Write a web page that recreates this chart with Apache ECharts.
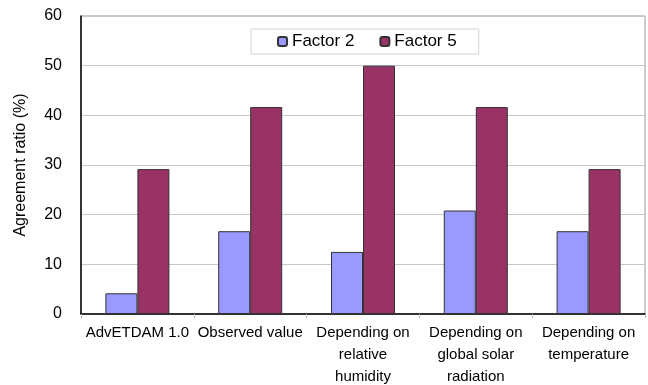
<!DOCTYPE html>
<html>
<head>
<meta charset="utf-8">
<script src="https://cdn.jsdelivr.net/npm/echarts@6/dist/echarts.min.js"></script>
<style>
    html, body { margin: 0; padding: 0; background: #fff; }
    #main { width: 648px; height: 385px; }
</style>
</head>
<body>
<div id="main"></div>
<script>
// categories (x axis)
let categories = ['AdvETDAM 1.0', 'Observed value', 'Depending on\nrelative\nhumidity', 'Depending on\nglobal solar\nradiation', 'Depending on\ntemperature'];
// series values (%)
let factor2 = [4.17, 16.67, 12.5, 20.83, 16.67];
let factor5 = [29.17, 41.67, 50, 41.67, 29.17];
// y axis range
let yMin = 0, yMax = 60, yStep = 10;

let font = 'Liberation Sans, Arial, sans-serif';
let chart = echarts.init(document.getElementById('main'));

let option = {
    animation: false,
    textStyle: { fontFamily: font },
    grid: {
        left: 81, right: 3, top: 16, bottom: 71,
        outerBoundsMode: 'none',
        containLabel: false,
        show: true,
        borderColor: '#999',
        borderWidth: 1
    },
    legend: {
        data: ['Factor 2', 'Factor 5'],
        left: 251,
        top: 29,
        padding: [4, 22, 4, 26],
        itemGap: 25,
        itemWidth: 9,
        itemHeight: 9,
        borderColor: '#d4d4d4',
        borderWidth: 1,
        textStyle: { fontSize: 17, color: '#000', fontFamily: font }
    },
    xAxis: {
        type: 'category',
        data: categories,
        axisLine: { lineStyle: { color: '#000', width: 1.5 } },
        axisTick: { show: true, length: 4, lineStyle: { color: '#bbb' } },
        axisLabel: {
            interval: 0,
            color: '#000',
            fontSize: 15,
            lineHeight: 22,
            margin: 8
        }
    },
    yAxis: {
        type: 'value',
        min: yMin,
        max: yMax,
        interval: yStep,
        name: 'Agreement ratio (%)',
        nameLocation: 'middle',
        nameGap: 52,
        nameTextStyle: { fontSize: 16, color: '#000' },
        axisLine: { show: true, lineStyle: { color: '#000', width: 1.5 } },
        axisTick: { show: false },
        axisLabel: { color: '#000', fontSize: 16, margin: 19 },
        splitLine: { lineStyle: { color: '#c8c8c8' } }
    },
    series: [
        {
            name: 'Factor 2',
            type: 'bar',
            data: factor2,
            barWidth: 32,
            barGap: '0%',
            itemStyle: { color: '#9999ff', borderColor: '#333', borderWidth: 1 }
        },
        {
            name: 'Factor 5',
            type: 'bar',
            data: factor5,
            barWidth: 32,
            barGap: '0%',
            itemStyle: { color: '#993366', borderColor: '#333', borderWidth: 1 }
        }
    ]
};
chart.setOption(option);
</script>
</body>
</html>
